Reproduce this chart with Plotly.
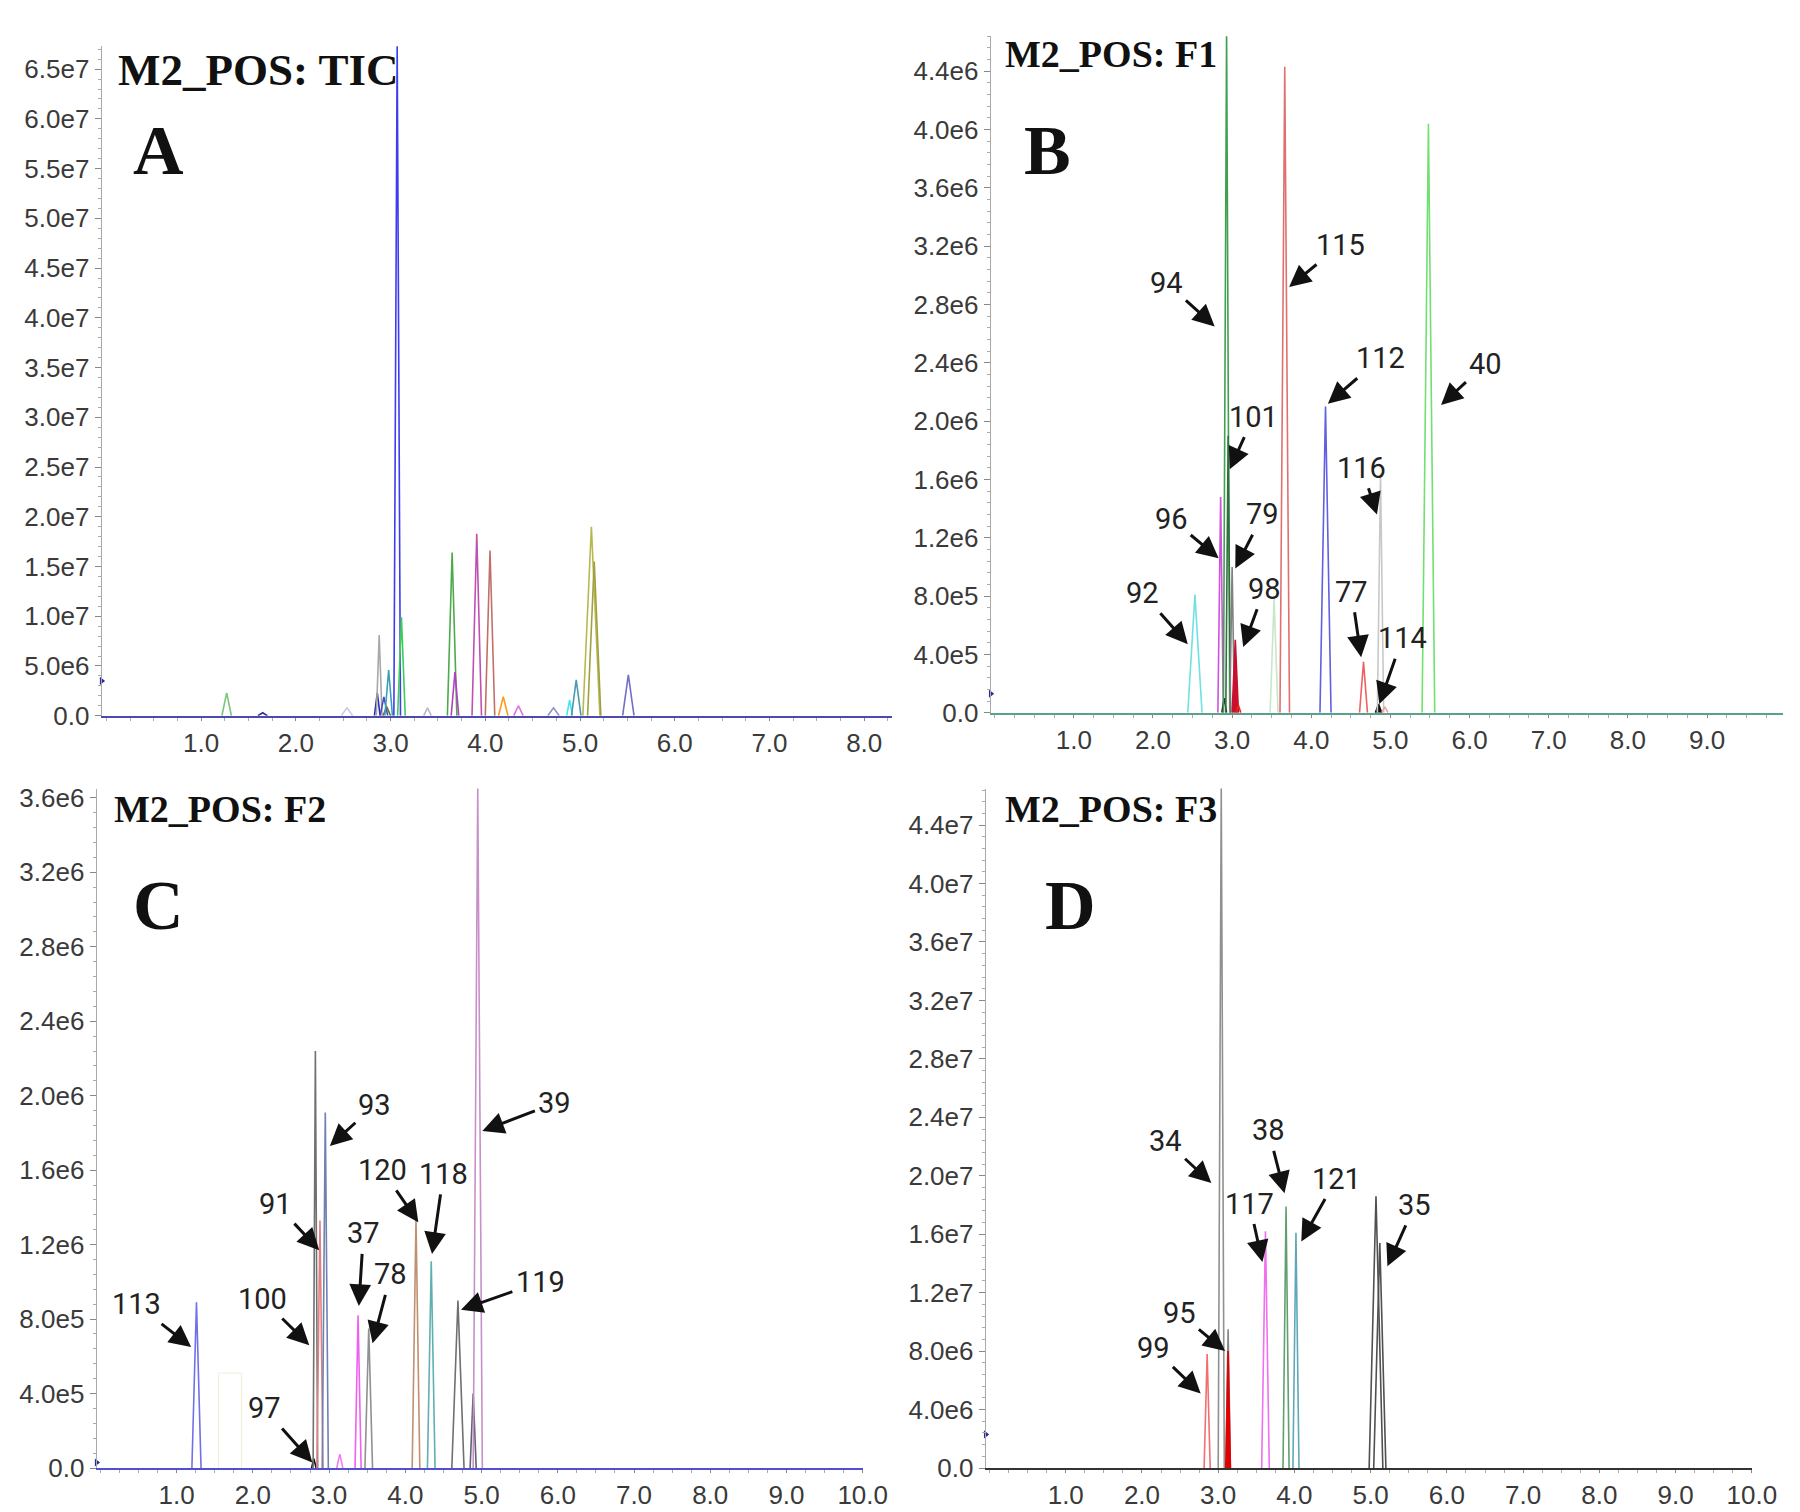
import plotly.graph_objects as go

# ---------------- data ----------------
# Panel A: M2_POS TIC (retention time in min, intensity)
a_rt = [1.27, 1.65, 2.54, 2.86, 2.88, 2.93, 2.96, 2.98, 3.07, 3.115, 3.39, 3.65, 3.68,
        3.91, 4.05, 4.19, 4.35, 4.72, 4.89, 4.96, 5.12, 5.15, 5.51]
a_height = [2.3e6, 0.3e6, 0.8e6, 2.3e6, 8.1e6, 1.9e6, 0.9e6, 4.6e6, 6.75e7, 9.9e6, 0.8e6, 1.64e7, 4.4e6,
            1.83e7, 1.66e7, 1.9e6, 1.0e6, 0.8e6, 1.6e6, 3.6e6, 1.9e7, 1.55e7, 4.1e6]
a_halfwidth = [0.05, 0.05, 0.06, 0.03, 0.03, 0.04, 0.04, 0.04, 0.035, 0.04, 0.04, 0.05, 0.04,
               0.05, 0.05, 0.05, 0.05, 0.06, 0.03, 0.05, 0.09, 0.07, 0.06]
a_color = ["#7cc47c", "#303090", "#c8c8ec", "#2a2ab0", "#a8a8a8", "#4a4ac8", "#6b6b30", "#3aa0b8",
           "#3c3cf0", "#3ccc5a", "#b8b8c8", "#4caa4c", "#b040c0", "#c050b0", "#c07068", "#ff9a1a",
           "#e070e0", "#9090c8", "#40e8f0", "#4a9ab0", "#b8b850", "#a0a040", "#7070c8"]

# Panel B: M2_POS F1
b_rt = [2.53, 2.855, 2.90, 2.93, 2.95, 3.00, 3.04, 3.08, 3.53, 3.665, 4.18, 4.66, 4.85, 4.875, 4.93, 5.48]
b_height = [0.81e6, 1.48e6, 0.1e6, 4.7e6, 1.9e6, 1.0e6, 0.5e6, 0.05e6, 0.78e6, 4.43e6, 2.1e6, 0.35e6,
            0.06e6, 1.64e6, 0.04e6, 4.04e6]
b_halfwidth = [0.09, 0.035, 0.03, 0.04, 0.03, 0.03, 0.04, 0.03, 0.05, 0.06, 0.07, 0.05, 0.04, 0.04, 0.04, 0.08]
b_color = ["#70e0e0", "#d050e0", "#202020", "#40a050", "#2f6f3f", "#808080", "#c8102e", "#f02020",
           "#c8e6c8", "#e07070", "#6060e0", "#f06060", "#101010", "#c8c8c8", "#f0a0a0", "#70e070"]
b_filled = [False, False, False, False, False, False, True, False, False, False, False, False, True,
            False, False, False]

# Panel C: M2_POS F2
c_rt = [1.26, 2.80, 2.82, 2.88, 2.95, 3.14, 3.38, 3.52, 4.14, 4.34, 4.69, 4.89, 4.95]
c_height = [0.89e6, 0.05e6, 2.24e6, 1.33e6, 1.91e6, 0.075e6, 0.82e6, 0.75e6, 1.34e6, 1.11e6, 0.9e6,
            0.4e6, 3.66e6]
c_halfwidth = [0.06, 0.03, 0.03, 0.04, 0.04, 0.04, 0.04, 0.05, 0.05, 0.05, 0.08, 0.04, 0.06]
c_color = ["#7070e8", "#101010", "#707070", "#e08080", "#7080b0", "#f080f0", "#f060f0", "#909090",
           "#c09070", "#60b0b0", "#707070", "#606070", "#c890c8"]
c_box_rt = [1.55, 1.55, 1.85, 1.85]
c_box_y = [0, 0.51e6, 0.51e6, 0]

# Panel D: M2_POS F3
d_rt = [2.855, 3.04, 3.13, 3.13, 3.62, 3.89, 4.02, 5.07, 5.12]
d_height = [0.78e7, 4.66e7, 0.95e7, 0.8e7, 1.62e7, 1.79e7, 1.61e7, 1.86e7, 1.54e7]
d_halfwidth = [0.04, 0.04, 0.03, 0.03, 0.05, 0.04, 0.04, 0.09, 0.08]
d_color = ["#f07070", "#909090", "#888888", "#e00000", "#f070f0", "#60a070", "#60a8b8", "#505050", "#505050"]
d_filled = [False, False, False, True, False, False, False, False, False]

# peak labels: text, arrow tip (rt, y), label centre (rt, y)
b_labels = ["94", "115", "112", "40", "101", "116", "96", "79", "92", "98", "77", "114"]
b_tip_rt = [2.78, 3.72, 4.21, 5.64, 2.97, 4.83, 2.83, 3.04, 2.44, 3.14, 4.63, 4.86]
b_tip_y = [2.65e6, 2.92e6, 2.12e6, 2.11e6, 1.67e6, 1.36e6, 1.06e6, 0.99e6, 0.47e6, 0.45e6, 0.38e6, 0.06e6]
b_txt_rt = [2.17, 4.37, 4.87, 6.20, 3.27, 4.64, 2.23, 3.39, 1.87, 3.41, 4.51, 5.15]
b_txt_y = [2.95e6, 3.21e6, 2.43e6, 2.39e6, 2.03e6, 1.68e6, 1.33e6, 1.36e6, 0.82e6, 0.85e6, 0.83e6, 0.51e6]

c_labels = ["113", "100", "97", "91", "93", "39", "120", "118", "37", "78", "119"]
c_tip_rt = [1.19, 2.74, 2.78, 2.87, 3.01, 5.01, 4.17, 4.35, 3.39, 3.57, 4.73]
c_tip_y = [0.65e6, 0.66e6, 0.03e6, 1.17e6, 1.73e6, 1.81e6, 1.32e6, 1.15e6, 0.87e6, 0.67e6, 0.85e6]
c_txt_rt = [0.47, 2.12, 2.15, 2.30, 3.60, 5.96, 3.70, 4.50, 3.45, 3.81, 5.77]
c_txt_y = [0.88e6, 0.91e6, 0.32e6, 1.42e6, 1.95e6, 1.96e6, 1.60e6, 1.58e6, 1.26e6, 1.04e6, 1.0e6]

d_labels = ["34", "38", "117", "121", "35", "95", "99"]
d_tip_rt = [2.91, 3.87, 3.58, 4.09, 5.22, 3.09, 2.77]
d_tip_y = [1.95e7, 1.88e7, 1.41e7, 1.55e7, 1.38e7, 0.80e7, 0.51e7]
d_txt_rt = [2.31, 3.66, 3.41, 4.55, 5.58, 2.49, 2.15]
d_txt_y = [2.24e7, 2.31e7, 1.81e7, 1.98e7, 1.80e7, 1.06e7, 0.82e7]

# axis ticks
a_yvals = [0, 5e6, 1e7, 1.5e7, 2e7, 2.5e7, 3e7, 3.5e7, 4e7, 4.5e7, 5e7, 5.5e7, 6e7, 6.5e7]
a_ytext = ["0.0", "5.0e6", "1.0e7", "1.5e7", "2.0e7", "2.5e7", "3.0e7", "3.5e7", "4.0e7", "4.5e7",
           "5.0e7", "5.5e7", "6.0e7", "6.5e7"]
b_yvals = [0, 4e5, 8e5, 1.2e6, 1.6e6, 2.0e6, 2.4e6, 2.8e6, 3.2e6, 3.6e6, 4.0e6, 4.4e6]
b_ytext = ["0.0", "4.0e5", "8.0e5", "1.2e6", "1.6e6", "2.0e6", "2.4e6", "2.8e6", "3.2e6", "3.6e6",
           "4.0e6", "4.4e6"]
c_yvals = [0, 4e5, 8e5, 1.2e6, 1.6e6, 2.0e6, 2.4e6, 2.8e6, 3.2e6, 3.6e6]
c_ytext = ["0.0", "4.0e5", "8.0e5", "1.2e6", "1.6e6", "2.0e6", "2.4e6", "2.8e6", "3.2e6", "3.6e6"]
d_yvals = [0, 4e6, 8e6, 1.2e7, 1.6e7, 2.0e7, 2.4e7, 2.8e7, 3.2e7, 3.6e7, 4.0e7, 4.4e7]
d_ytext = ["0.0", "4.0e6", "8.0e6", "1.2e7", "1.6e7", "2.0e7", "2.4e7", "2.8e7", "3.2e7", "3.6e7",
           "4.0e7", "4.4e7"]
a_xvals = [1, 2, 3, 4, 5, 6, 7, 8]
b_xvals = [1, 2, 3, 4, 5, 6, 7, 8, 9]
cd_xvals = [1, 2, 3, 4, 5, 6, 7, 8, 9, 10]

# small start markers on the left of each trace
start_y = [3.5e6, 0.13e6, 0.03e6, 2.3e6]

titles = ["M2_POS: TIC", "M2_POS: F1", "M2_POS: F2", "M2_POS: F3"]
title_sizes = [45, 38, 38, 38]
letters = ["A", "B", "C", "D"]

FW, FH = 1800, 1512


# the page keeps an 8px body margin and the shot is scaled a little; map
# wanted screen pixels onto figure paper coordinates
def px_x(X):
    return min(1.0, (X - 7.4) / 0.986 / FW)


def px_y(Y):
    return max(0.0, 1 - (Y - 10.7) / 0.989 / FH)


def dom_x(a, b):
    return [px_x(a), px_x(b)]


def dom_y(top, bottom):
    return [px_y(bottom), px_y(top)]


fig = go.Figure()


def add_peaks(rt, height, halfwidth, color, xa, ya, filled=None):
    for i in range(len(rt)):
        fill = filled[i] if filled else False
        fig.add_trace(go.Scatter(
            x=[rt[i] - halfwidth[i], rt[i], rt[i] + halfwidth[i]],
            y=[0, height[i], 0],
            mode="lines",
            line=dict(color=color[i], width=1.6),
            fill="toself" if fill else None,
            fillcolor=color[i] if fill else None,
            xaxis=xa, yaxis=ya, showlegend=False, hoverinfo="x+y",
        ))


add_peaks(a_rt, a_height, a_halfwidth, a_color, "x", "y")
add_peaks(b_rt, b_height, b_halfwidth, b_color, "x2", "y2", b_filled)
add_peaks(c_rt, c_height, c_halfwidth, c_color, "x3", "y3")
add_peaks(d_rt, d_height, d_halfwidth, d_color, "x4", "y4", d_filled)
fig.add_trace(go.Scatter(x=c_box_rt, y=c_box_y, mode="lines", line=dict(color="#eeeed8", width=1),
                         xaxis="x3", yaxis="y3", showlegend=False))

axis_ids = [("x", "y"), ("x2", "y2"), ("x3", "y3"), ("x4", "y4")]
for (xa, ya), y0 in zip(axis_ids, start_y):
    fig.add_trace(go.Scatter(x=[-0.05], y=[y0], mode="markers",
                             marker=dict(symbol="triangle-right", size=7, color="#2a2a9a"),
                             xaxis=xa, yaxis=ya, showlegend=False, cliponaxis=False))

# annotations (arrows + numbers)
ann = []
for labels, trt, ty, xrt, xy, ax_id in [
    (b_labels, b_tip_rt, b_tip_y, b_txt_rt, b_txt_y, "2"),
    (c_labels, c_tip_rt, c_tip_y, c_txt_rt, c_txt_y, "3"),
    (d_labels, d_tip_rt, d_tip_y, d_txt_rt, d_txt_y, "4"),
]:
    for lab, x1, y1, x0, y0 in zip(labels, trt, ty, xrt, xy):
        ann.append(dict(
            text=lab, x=x1, y=y1, ax=x0, ay=y0,
            xref="x" + ax_id, yref="y" + ax_id, axref="x" + ax_id, ayref="y" + ax_id,
            showarrow=True, arrowhead=2, arrowsize=1.45, arrowwidth=3, arrowcolor="#111111",
            standoff=0, startstandoff=2,
            font=dict(family="Liberation Sans Narrow, Roboto, sans-serif", size=29, color="#222222"),
        ))

# panel titles and letters (screen pixel positions)
title_pos = [(115, 68), (1002, 52), (111, 808), (1002, 808)]
letter_pos = [(158, 149), (1047, 149), (158, 905), (1070, 905)]
for t, size, (px, py) in zip(titles, title_sizes, title_pos):
    ann.append(dict(text="<b>" + t + "</b>", x=px_x(px), y=px_y(py), xref="paper", yref="paper",
                    xanchor="left", yanchor="middle", showarrow=False,
                    font=dict(family="Liberation Serif, serif", size=size, color="#111111")))
for t, (px, py) in zip(letters, letter_pos):
    ann.append(dict(text="<b>" + t + "</b>", x=px_x(px), y=px_y(py), xref="paper", yref="paper",
                    xanchor="center", yanchor="middle", showarrow=False,
                    font=dict(family="Liberation Serif, serif", size=70, color="#111111")))

tick_font = dict(family="Liberation Sans, Arial, sans-serif", size=26, color="#3a3a3a")


def xaxis(domain, rng, vals, anchor, line_color):
    return dict(domain=domain, range=rng, anchor=anchor, tickvals=vals,
                ticktext=["%.1f" % v for v in vals], tickfont=tick_font,
                showgrid=False, zeroline=False, showline=True, linecolor=line_color, linewidth=2,
                ticks="outside", ticklen=3, tickcolor="#888888",
                minor=dict(ticks="outside", ticklen=3, dtick=0.25, tickcolor="#aaaaaa"))


def yaxis(domain, rng, vals, text, anchor, minor):
    return dict(domain=domain, range=rng, anchor=anchor, tickvals=vals, ticktext=text,
                tickfont=tick_font, showgrid=False, zeroline=False, showline=True,
                linecolor="#aaaaaa", linewidth=1, ticks="outside", ticklen=6, tickcolor="#888888",
                minor=dict(ticks="outside", ticklen=3, dtick=minor, tickcolor="#aaaaaa"))


fig.update_layout(
    width=FW, height=FH,
    margin=dict(l=0, r=0, t=0, b=0),
    paper_bgcolor="white", plot_bgcolor="white",
    showlegend=False,
    annotations=ann,
    xaxis=xaxis(dom_x(101, 891), [-0.05, 8.29], a_xvals, "y", "#4a4ab0"),
    yaxis=yaxis(dom_y(44, 715), [0, 6.73e7], a_yvals, a_ytext, "x", 1e6),
    xaxis2=xaxis(dom_x(990, 1785), [-0.05, 9.96], b_xvals, "y2", "#5aa08a"),
    yaxis2=yaxis(dom_y(34, 712), [0, 4.64e6], b_yvals, b_ytext, "x2", 8e4),
    xaxis3=xaxis(dom_x(96, 862), [-0.05, 10.0], cd_xvals, "y3", "#5050d0"),
    yaxis3=yaxis(dom_y(788, 1469), [0, 3.65e6], c_yvals, c_ytext, "x3", 8e4),
    xaxis4=xaxis(dom_x(985, 1751), [-0.05, 10.0], cd_xvals, "y4", "#333333"),
    yaxis4=yaxis(dom_y(788, 1469), [0, 4.65e7], d_yvals, d_ytext, "x4", 8e5),
)

fig.write_html("out.html")
